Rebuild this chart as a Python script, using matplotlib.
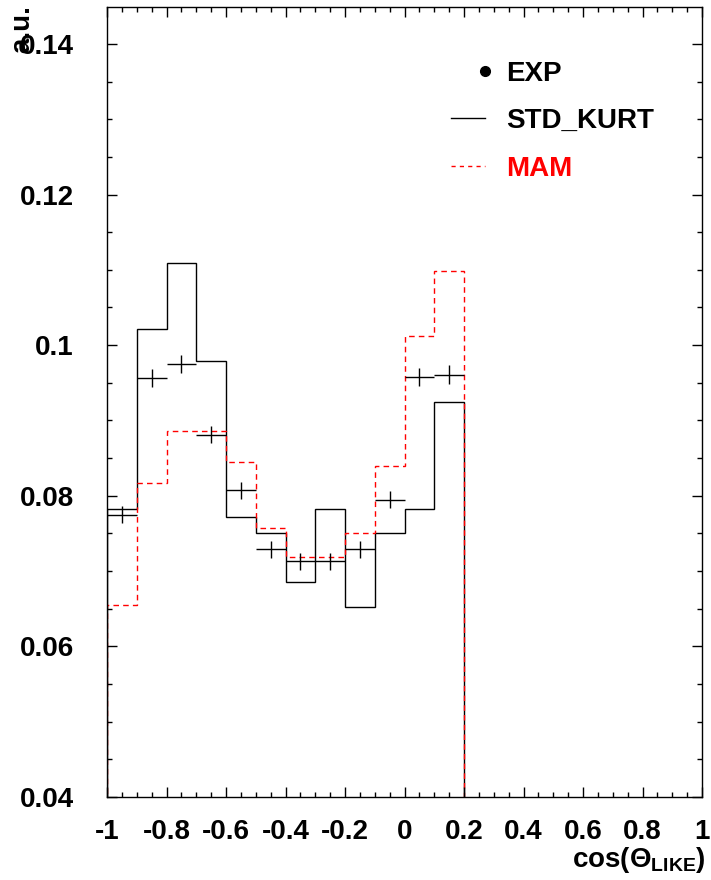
""" cos(Theta_LIKE) distribution: EXP vs STD_KURT vs MAM
"""
import matplotlib
matplotlib.use('Agg')
import matplotlib.pyplot as plt
from matplotlib.lines import Line2D
from matplotlib.ticker import MultipleLocator, FuncFormatter
import numpy as np

# data
edges = np.round(np.arange(-1.0, 0.21, 0.1), 2)
exp_vals = [0.0775, 0.0956, 0.0975, 0.0881, 0.0807, 0.0729,
            0.0713, 0.0713, 0.0729, 0.0795, 0.0958, 0.0961]
exp_errs = [0.0011, 0.0012, 0.0012, 0.0011, 0.0011, 0.0011,
            0.0011, 0.0011, 0.0011, 0.0011, 0.0012, 0.0012]
std_kurt = [0.0782, 0.1022, 0.1109, 0.0979, 0.0772, 0.0750,
            0.0685, 0.0782, 0.0652, 0.0750, 0.0783, 0.0924]
mam = [0.0655, 0.0817, 0.0886, 0.0886, 0.0845, 0.0757,
       0.0719, 0.0719, 0.0750, 0.0840, 0.1012, 0.1099]
labels = ['EXP', 'STD_KURT', 'MAM']

# fig params
W, H = 711, 880
fsize_tick = 20
fsize_leg = 20
plt.rcParams['font.family'] = ['Liberation Sans', 'DejaVu Sans']
plt.rcParams['font.weight'] = 'bold'
plt.rcParams['axes.unicode_minus'] = False
plt.rcParams['mathtext.fontset'] = 'custom'
plt.rcParams['mathtext.rm'] = 'Liberation Sans'
plt.rcParams['mathtext.bf'] = 'Liberation Sans:bold'

fig = plt.figure(figsize=(W / 100, H / 100), dpi=100)
ax = fig.add_axes([107 / W, 1 - 797 / H, (702 - 107) / W, (797 - 7) / H])

centers = 0.5 * (edges[:-1] + edges[1:])
ax.errorbar(centers, exp_vals, yerr=exp_errs, xerr=0.05, fmt='none',
            ecolor='black', elinewidth=1.0, capsize=0)
ax.stairs(std_kurt, edges, baseline=0.0, color='black', lw=1.0)
ax.stairs(mam, edges, baseline=0.0, color='red', lw=1.0, linestyle=(0, (4, 3)))

ax.set_xlim(-1, 1)
ax.set_ylim(0.04, 0.1449)
ax.xaxis.set_major_locator(MultipleLocator(0.2))
ax.xaxis.set_minor_locator(MultipleLocator(0.05))
ax.yaxis.set_major_locator(MultipleLocator(0.02))
ax.yaxis.set_minor_locator(MultipleLocator(0.005))
ax.xaxis.set_major_formatter(FuncFormatter(lambda v, p: '%g' % round(v, 2)))
ax.yaxis.set_major_formatter(FuncFormatter(lambda v, p: '%g' % round(v, 3)))
ax.tick_params(which='both', direction='in', top=True, right=True, width=1.0)
ax.tick_params(which='major', length=7.5)
ax.tick_params(which='minor', length=3.8)
ax.tick_params(axis='y', which='major', pad=24, labelsize=fsize_tick)
ax.tick_params(axis='x', which='major', pad=16, labelsize=fsize_tick)
for sp in ax.spines.values():
    sp.set_linewidth(1.0)

# axis titles
fig.text(22 / W, 1 - 5 / H, 'a.u.', rotation=90, ha='center', va='top',
         fontsize=fsize_tick, fontweight='bold')
fig.text(706 / W, 1 - 867 / H, r'$\mathbf{cos(}\Theta_{\mathbf{LIKE}}\mathbf{)}$',
         ha='right', va='baseline', fontsize=fsize_tick)

# legend
rows = [70.7, 117.7, 165.7]
fig.add_artist(Line2D([485 / W], [1 - rows[0] / H], marker='o', ms=7,
                      color='black', transform=fig.transFigure))
fig.add_artist(Line2D([451 / W, 485 / W], [1 - rows[1] / H] * 2, color='black',
                      lw=1.0, transform=fig.transFigure))
fig.add_artist(Line2D([451 / W, 485 / W], [1 - rows[2] / H] * 2, color='red',
                      lw=1.0, linestyle=(0, (3, 3)), transform=fig.transFigure))
for y, lab, col in zip(rows, labels, ['black', 'black', 'red']):
    fig.text(506 / W, 1 - y / H, lab, ha='left', va='center_baseline',
             fontsize=fsize_leg, fontweight='bold', color=col)

fig.savefig('out.png', dpi=100)
